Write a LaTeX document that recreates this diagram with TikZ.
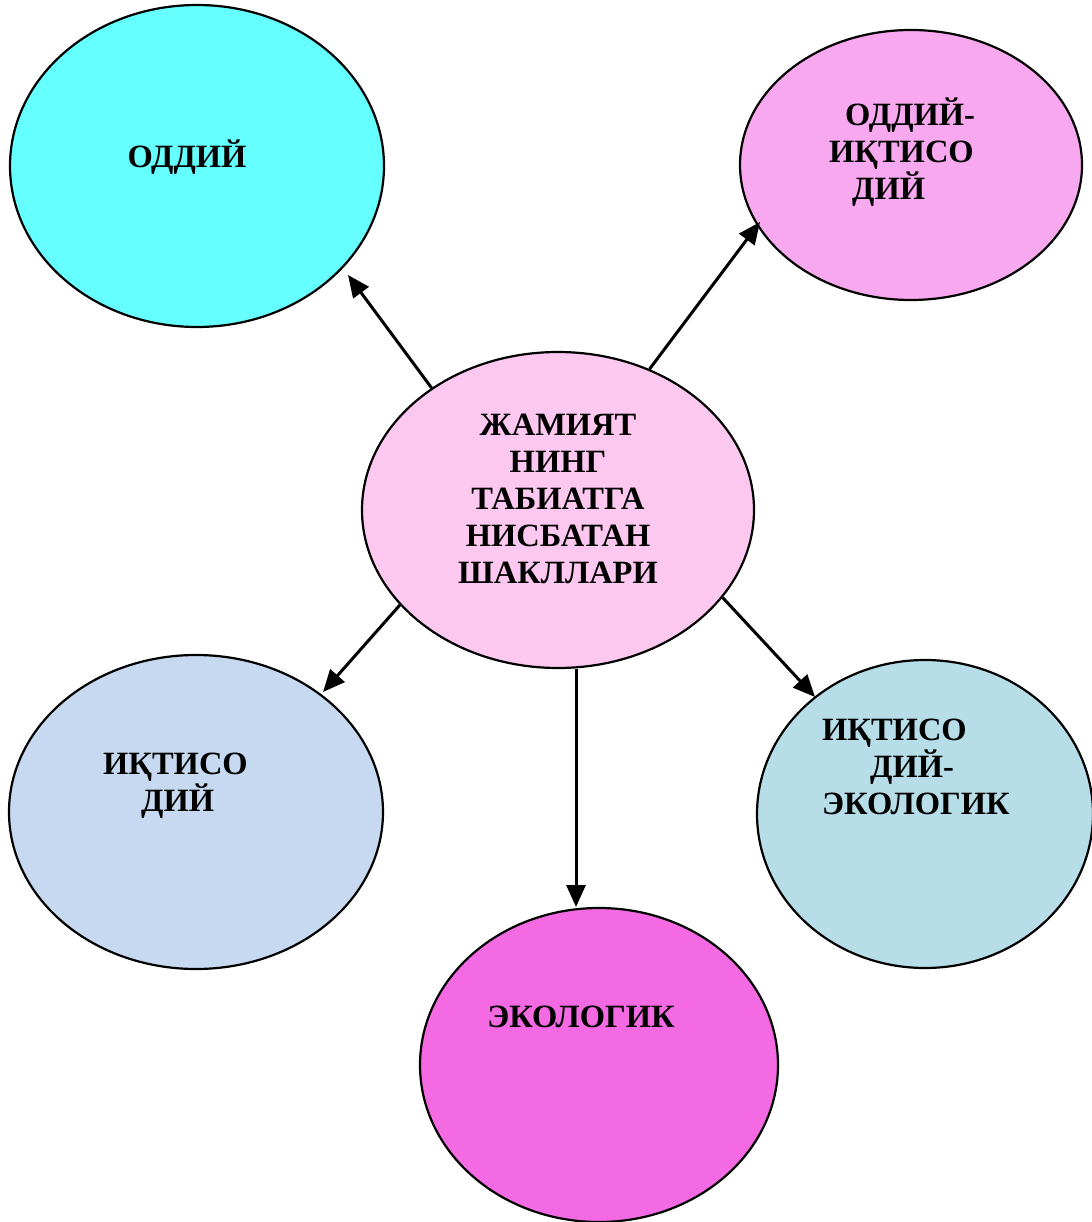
\documentclass[tikz,border=0pt]{standalone}
\usepackage{fontspec}
\setmainfont{Liberation Serif}
\usetikzlibrary{shapes.geometric,arrows.meta}

\definecolor{cCyan}{RGB}{102,255,255}
\definecolor{cOrchid}{RGB}{248,168,238}
\definecolor{cCenter}{RGB}{252,200,240}
\definecolor{cBlue}{RGB}{198,217,240}
\definecolor{cTeal}{RGB}{183,221,232}
\definecolor{cMagenta}{RGB}{244,106,227}

\tikzset{
  oval/.style={ellipse, draw=black, line width=2.2pt, inner sep=0pt},
  lbl/.style={font=\fontsize{32.5}{37}\selectfont\bfseries, inner sep=0pt},
  link/.style={line width=3pt, -{Triangle[length=22pt,width=19pt]}}
}

\begin{document}
\begin{tikzpicture}[x=1pt,y=-1pt]
\useasboundingbox (0,0) rectangle (1091,1222);

% ellipses
\node[oval, fill=cCyan, minimum width=374pt, minimum height=322pt] (simple) at (197,166) {};
\node[oval, fill=cOrchid, minimum width=342pt, minimum height=270pt] (simpecon) at (911,165) {};
\node[oval, fill=cCenter, minimum width=392pt, minimum height=316pt] (c) at (558,510) {};
\node[oval, fill=cBlue, minimum width=374pt, minimum height=314pt] (econ) at (196,812) {};
\node[oval, fill=cTeal, minimum width=336pt, minimum height=308pt] (econeco) at (925,814) {};
\node[oval, fill=cMagenta, minimum width=358pt, minimum height=314pt] (eco) at (599,1065) {};

% labels
\node[lbl] (tSimple) at (187,157) {ОДДИЙ};
\node[lbl, align=left, anchor=north west] (tSimpEcon) at (829,98)
  {\hspace*{16pt}ОДДИЙ-\\ИҚТИСО\\\hspace*{23pt}ДИЙ};
\node[lbl, align=center] (tCenter) at (558,499)
  {ЖАМИЯТ\\НИНГ\\ТАБИАТГА\\НИСБАТАН\\ШАКЛЛАРИ};
\node[lbl, align=left, anchor=north west] (tEcon) at (103,753)
  {ИҚТИСО\\\hspace*{38pt}ДИЙ};
\node[lbl, align=left, anchor=north west] (tEconEco) at (822,719)
  {ИҚТИСО\\\hspace*{48pt}ДИЙ-\\ЭКОЛОГИК};
\node[lbl] (tEco) at (581,1017) {ЭКОЛОГИК};

% arrow tips stop short of the outer ellipses
\coordinate (e1) at (348,275);
\coordinate (e2) at (760,222);
\coordinate (e3) at (323,692);
\coordinate (e4) at (576,907);
\coordinate (e5) at (815,697);

\draw[link] (c.136) -- (e1);
\draw[link] (c.57.5) -- (e2);
\draw[link] (c.211) -- (e3);
\draw[link] (e4 |- c.south) -- (e4);
\draw[link] (c.332) -- (e5);
\end{tikzpicture}
\end{document}
